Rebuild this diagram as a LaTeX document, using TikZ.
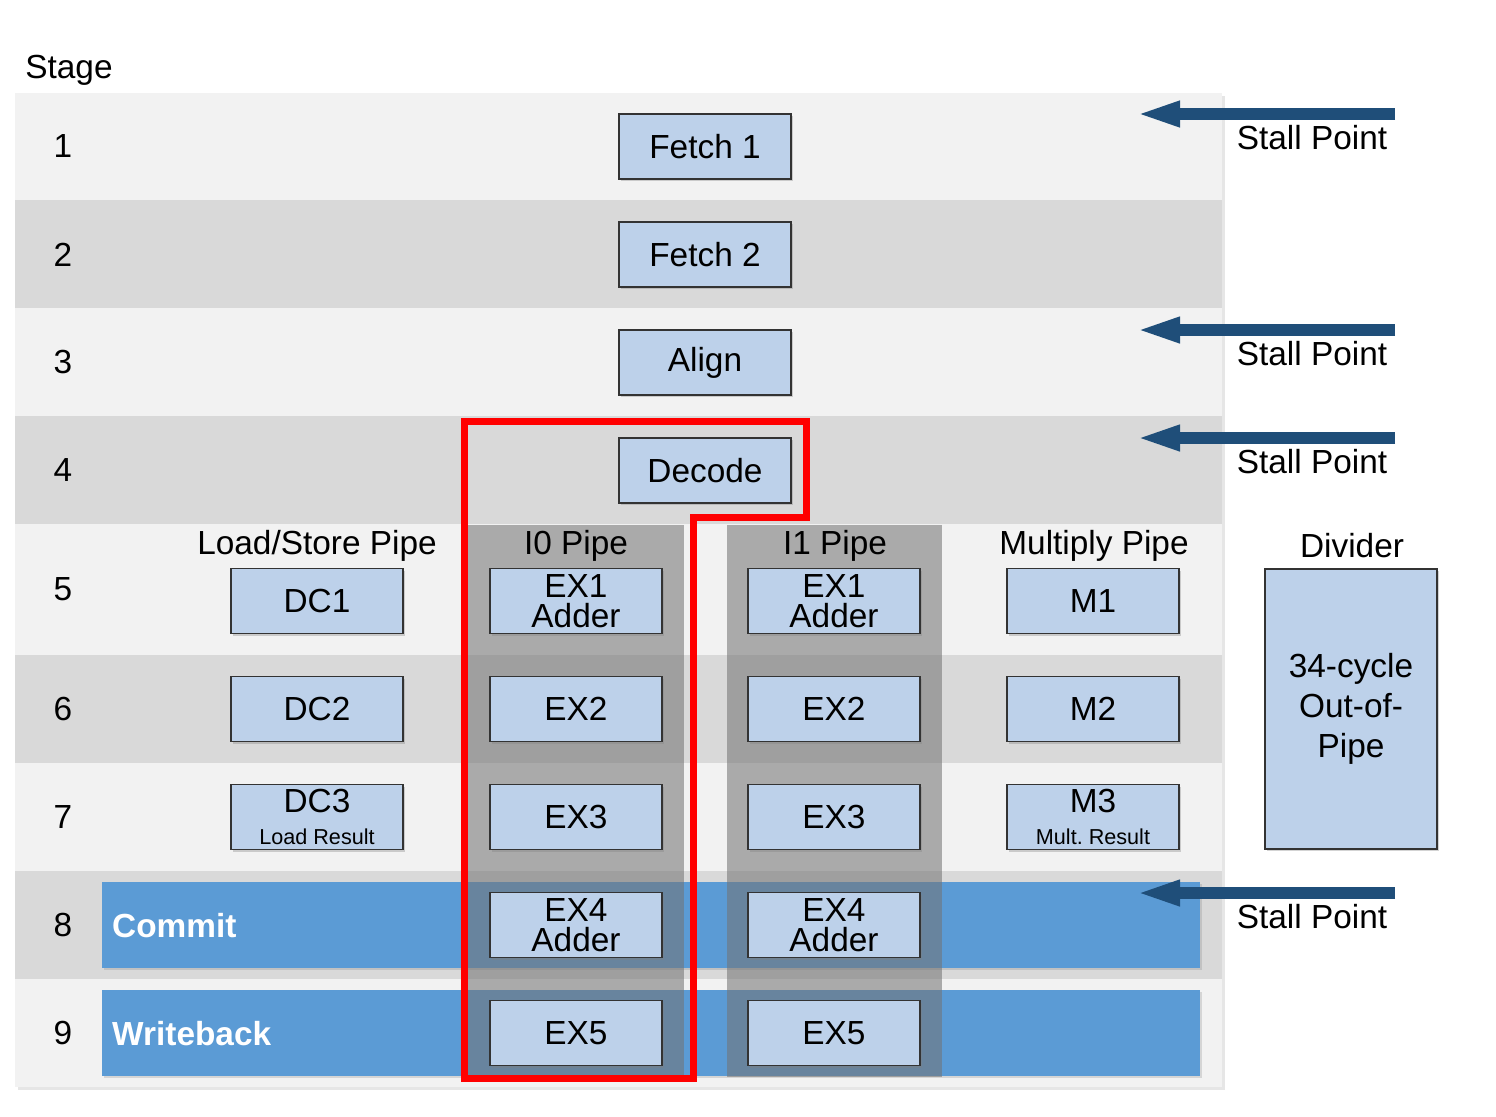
\documentclass[tikz,border=0pt]{standalone}
\usepackage{fontspec}
\setmainfont{Liberation Sans}
\usetikzlibrary{arrows.meta,shadows}

\definecolor{rowlight}{HTML}{F2F2F2}
\definecolor{rowdark}{HTML}{D9D9D9}
\definecolor{boxblue}{HTML}{BDD1EA}
\definecolor{busblue}{HTML}{5B9BD5}
\definecolor{stallblue}{HTML}{1F4E79}
\definecolor{pipegray}{RGB}{115,115,115}

\newcommand{\resfont}{\fontsize{12.3}{12}\selectfont}
\frenchspacing

\begin{document}
\begin{tikzpicture}[x=0.02cm, y=-0.02cm]

%-------------------------------------------------
% Styles
%-------------------------------------------------
\tikzset{
  pipecol/.style={fill=pipegray, fill opacity=0.56},
  bus/.style={fill=busblue, drop shadow={shadow xshift=1pt, shadow yshift=-1pt, opacity=0.25}},
  busname/.style={anchor=west, text=white, font=\fontsize{19}{22}\selectfont\bfseries},
  unit/.style={draw=black!80, line width=0.8pt, fill=boxblue, minimum width=3.44cm,
    minimum height=1.3cm, inner sep=0pt, align=center, font=\fontsize{19}{17}\selectfont,
    drop shadow={shadow xshift=1.2pt, shadow yshift=-1.2pt, opacity=0.35}},
  lbl/.style={font=\fontsize{19}{22}\selectfont},
  stall/.style={draw=stallblue, line width=0.24cm, -{Triangle[length=0.9cm, width=0.46cm]}},
  issuebox/.style={draw=red, line width=0.14cm}
}

\useasboundingbox (0,0) rectangle (1496,1116);

%-------------------------------------------------
% Stage rows
%-------------------------------------------------
\fill[rowlight, drop shadow={shadow xshift=1.5pt, shadow yshift=-1.5pt, opacity=0.2}] (15,93) rectangle (1222,1087);
\foreach \ya/\yb/\rowcol in {93/200/rowlight, 200/308/rowdark, 308/416/rowlight,
    416/524/rowdark, 524/655/rowlight, 655/763/rowdark, 763/871/rowlight,
    871/979/rowdark, 979/1087/rowlight} {
  \fill[\rowcol] (15,\ya) rectangle (1222,\yb);
}

\node[lbl] (stage) at (69,70) {Stage};
\foreach \n/\y in {1/146.5, 2/254.5, 3/362.5, 4/470.5, 5/589.5, 6/709, 7/817, 8/925, 9/1033} {
  \node[lbl] (st\n) at (63,\y) {\n};
}

% Commit / writeback bars
\fill[bus] (102,882) rectangle (1200,968);
\fill[bus] (102,990) rectangle (1200,1076);
\node[busname] (commit) at (106,926) {Commit};
\node[busname] (wb) at (106,1034) {Writeback};

% Integer pipe columns
\fill[pipecol] (468,525) rectangle (684,1077);
\fill[pipecol] (727,525) rectangle (942,1077);

%-------------------------------------------------
% Front end
%-------------------------------------------------
\node[unit] (fetch1) at (705,146.5) {Fetch 1};
\node[unit] (fetch2) at (705,254.5) {Fetch 2};
\node[unit] (align) at (705,362.5) {Align};
\node[unit] (decode) at (705,470.5) {Decode};

%-------------------------------------------------
% Pipes
%-------------------------------------------------
\node[lbl] (lshead) at (317,546) {Load/Store Pipe};
\node[lbl] (i0head) at (576,546) {I0 Pipe};
\node[lbl] (i1head) at (835,546) {I1 Pipe};
\node[lbl] (mulhead) at (1094,546) {Multiply Pipe};
\node[lbl] (divhead) at (1352,546) {Divider};

% Load/store
\node[unit] (dc1) at (317,601) {DC1};
\node[unit] (dc2) at (317,709) {DC2};
\node[unit] (dc3) at (317,817) {DC3\\[1pt]{\resfont Load Result}};

% I0
\node[unit] (i0ex1) at (576,601) {EX1\\Adder};
\node[unit] (i0ex2) at (576,709) {EX2};
\node[unit] (i0ex3) at (576,817) {EX3};
\node[unit] (i0ex4) at (576,925) {EX4\\Adder};
\node[unit] (i0ex5) at (576,1033) {EX5};

% I1
\node[unit] (i1ex1) at (834,601) {EX1\\Adder};
\node[unit] (i1ex2) at (834,709) {EX2};
\node[unit] (i1ex3) at (834,817) {EX3};
\node[unit] (i1ex4) at (834,925) {EX4\\Adder};
\node[unit] (i1ex5) at (834,1033) {EX5};

% Multiply
\node[unit] (m1) at (1093,601) {M1};
\node[unit] (m2) at (1093,709) {M2};
\node[unit] (m3) at (1093,817) {M3\\[1pt]{\resfont Mult. Result}};

% Divider
\node[unit, minimum height=5.6cm, font=\fontsize{19}{22.7}\selectfont] (div) at (1351,709) {34-cycle\\Out-of-\\Pipe};

%-------------------------------------------------
% Dual issue outline
%-------------------------------------------------
\draw[issuebox] (464,421) -- (806,421) -- (806,517) -- (693,517) -- (693,1078) -- (464,1078) -- cycle;

%-------------------------------------------------
% Stall points
%-------------------------------------------------
\foreach \k/\y in {1/114, 3/330, 4/438, 8/893} {
  \coordinate (sa\k) at (1395,\y);
  \coordinate (sb\k) at (1135,\y);
  \draw[stall] (sa\k) -- (sb\k);
  \node[lbl] (sp\k) at (1312,\y+24) {Stall Point};
}

\end{tikzpicture}
\end{document}
